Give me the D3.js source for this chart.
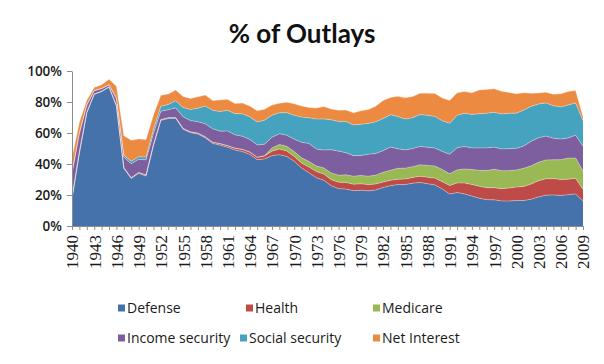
<!DOCTYPE html>
<html>
<head>
<meta charset="utf-8">
<script src="https://cdn.jsdelivr.net/npm/d3@7"></script>
<style>
  body { margin: 0; background: #fff; }
  svg { display: block; }
</style>
</head>
<body>
<div id="grafico"></div>
<script>
// years 1940..2009, share of total outlays (%)
const years = d3.range(1940, 2010)
const seriesNames = ['Defense', 'Health', 'Medicare', 'Income security', 'Social security', 'Net Interest']
const tickYears = d3.range(1940, 2010, 3)
const yTicks = [0, 20, 40, 60, 80, 100]

const defense = [17.5,47.1,73.0,84.9,86.7,89.5,77.3,37.1,30.6,33.9,
  32.2,51.8,68.1,69.4,69.5,62.4,60.2,59.3,56.8,53.2,
  52.2,50.8,49.0,48.0,46.2,42.8,43.2,45.4,46.0,44.9,
  41.8,37.5,34.3,31.2,29.5,26.0,24.1,23.8,22.8,23.1,
  22.7,23.2,24.8,26.0,26.7,26.7,27.6,28.1,27.3,26.5,
  23.9,20.6,21.6,20.7,19.3,17.9,17.0,16.9,16.2,16.1,
  16.5,16.4,17.3,18.7,19.9,20.0,19.7,20.2,20.7,16.0]
const health = [0.6,0.5,0.3,0.2,0.2,0.2,0.4,0.5,0.5,0.6,
  0.7,0.7,0.5,0.4,0.4,0.5,0.5,0.6,0.7,0.8,
  0.9,1.0,1.2,1.4,1.5,1.5,2.0,2.9,3.6,3.5,
  3.0,3.1,3.8,3.9,4.0,3.9,4.2,4.3,4.2,4.1,
  4.0,3.9,3.6,3.5,3.5,3.6,3.7,4.0,4.2,4.4,
  4.7,5.5,6.2,7.0,7.5,7.7,7.7,7.8,7.9,8.4,
  8.6,9.1,9.8,10.5,10.6,10.6,10.3,10.0,10.1,7.5]
const medicare = [0,0,0,0,0,0,0,0,0,0,
  0,0,0,0,0,0,0,0,0,0,
  0,0,0,0,0,0,0.1,2.0,3.0,3.0,
  3.2,3.4,3.5,3.6,4.0,4.3,4.5,4.9,5.1,5.4,
  5.4,5.7,6.2,6.4,7.0,7.0,7.0,7.4,7.6,7.8,
  7.8,7.6,8.4,9.1,9.6,10.3,11.1,11.9,11.6,11.2,
  11.0,11.7,11.7,11.9,12.1,12.1,12.8,13.6,13.0,12.0]
const incomeSecurity = [16.0,12.0,4.6,2.2,1.7,1.2,4.4,6.8,9.0,8.5,
  9.8,7.1,5.5,5.2,6.3,7.6,7.3,7.4,8.4,8.7,
  8.1,9.5,8.6,8.5,8.2,8.0,7.5,6.9,6.9,7.2,
  8.0,10.0,11.6,10.9,11.5,15.0,15.5,14.3,13.3,12.9,
  14.2,14.0,14.0,15.0,12.6,11.8,11.7,11.8,11.7,11.6,
  11.7,12.6,14.3,14.5,14.0,14.5,14.6,14.3,14.0,14.2,
  14.0,14.4,15.8,15.8,15.4,13.9,13.3,13.0,14.8,16.0]
const socialSecurity = [0.3,0.7,0.3,0.2,0.2,0.3,0.6,1.3,1.7,1.7,
  1.8,2.7,3.1,3.4,4.6,6.0,7.1,8.7,11.5,11.9,
  12.6,13.4,13.7,14.5,14.6,14.8,15.5,14.3,13.5,14.5,
  15.5,16.3,16.6,19.4,20.1,19.3,19.2,20.2,19.8,20.1,
  19.9,20.4,20.7,20.9,20.9,19.9,19.9,20.6,20.6,20.4,
  19.8,20.0,21.0,21.4,21.6,22.1,22.3,22.5,22.6,22.8,
  22.7,23.2,22.6,21.8,21.4,21.0,20.7,21.3,20.8,16.5]
const netInterest = [9.4,6.6,2.9,1.9,2.3,3.4,7.5,12.6,13.5,11.5,
  11.3,9.3,7.1,6.8,6.9,7.1,7.2,7.4,7.1,6.3,
  7.5,7.0,6.5,6.9,6.9,7.3,7.0,6.5,6.2,6.8,
  7.4,7.1,6.7,7.1,8.0,7.0,7.2,7.3,7.9,8.7,
  8.9,10.1,11.6,11.1,13.0,13.7,13.7,13.8,14.3,14.8,
  14.7,14.7,14.4,14.1,13.9,15.3,15.4,15.2,14.6,13.5,
  12.5,11.1,8.5,7.1,6.9,7.4,8.5,8.7,8.0,2.5]

const colores = ['#4672ab', '#be4b48', '#98b954', '#7d5fa0', '#46a3c0', '#ec8a42']

// build rows for d3.stack
const valores = [defense, health, medicare, incomeSecurity, socialSecurity, netInterest]
const filas = years.map((yr, i) => {
  const f = { year: yr }
  seriesNames.forEach((n, k) => { f[n] = valores[k][i] })
  return f
})

const ancho = 604
const alto = 364
const izq = 72, der = 583, arriba = 71, abajo = 226

const svg = d3.select('#grafico')
  .append('svg')
  .attr('width', ancho)
  .attr('height', alto)

const x = d3.scalePoint()
  .domain(years)
  .range([izq, der])

const y = d3.scaleLinear()
  .domain([0, 100])
  .range([abajo, arriba])

const stack = d3.stack().keys(seriesNames)
const capas = stack(filas)

const area = d3.area()
  .x(d => x(d.data.year))
  .y0(d => y(d[0]))
  .y1(d => y(d[1]))

svg.append('g')
  .selectAll('path')
  .data(capas)
  .enter().append('path')
  .attr('d', area)
  .attr('fill', (d, i) => colores[i])

// thin light edge along each layer top
const borde = d3.line()
  .x(d => x(d.data.year))
  .y(d => y(d[1]))

svg.append('g')
  .selectAll('path')
  .data(capas)
  .enter().append('path')
  .attr('d', borde)
  .attr('fill', 'none')
  .attr('stroke', '#fff4e8')
  .attr('stroke-opacity', 0.45)
  .attr('stroke-width', 0.8)

// y axis
const ejeY = svg.append('g')
  .attr('transform', 'translate(' + izq + ',0)')
  .call(d3.axisLeft(y)
    .tickValues(yTicks)
    .tickFormat(d => d + '%')
    .tickSize(5)
    .tickSizeOuter(0)
    .tickPadding(5))
ejeY.select('.domain').attr('stroke', '#8c8c8c')
ejeY.selectAll('.tick line').attr('stroke', '#8c8c8c')
ejeY.selectAll('.tick text')
  .style('font-family', '"Open Sans", sans-serif')
  .style('font-size', '13.5px')
  .style('font-weight', '600')
  .attr('fill', '#1a1a1a')

// x axis
const ejeX = svg.append('g')
  .attr('transform', 'translate(0,' + abajo + ')')
  .call(d3.axisBottom(x)
    .tickSize(4)
    .tickSizeOuter(0)
    .tickFormat(d => tickYears.includes(d) ? d : ''))
ejeX.select('.domain').attr('stroke', '#8c8c8c')
ejeX.selectAll('.tick line').attr('stroke', '#8c8c8c')
ejeX.selectAll('.tick text')
  .attr('transform', 'rotate(-90)')
  .attr('text-anchor', 'end')
  .attr('x', -9)
  .attr('y', 0)
  .attr('dy', '0.35em')
  .style('font-family', '"Liberation Serif", serif')
  .style('font-size', '17px')
  .attr('fill', '#1a1a1a')

// title
svg.append('text')
  .attr('x', 302)
  .attr('y', 43)
  .attr('text-anchor', 'middle')
  .style('font-family', 'Lato, sans-serif')
  .style('font-weight', 'bold')
  .style('font-size', '26px')
  .attr('fill', '#111')
  .text('% of Outlays')

// legend
const legX = [118, 246, 373, 118, 240, 373]
const legY = [308, 308, 308, 338, 338, 338]
const leyenda = svg.append('g')
  .selectAll('g')
  .data(seriesNames)
  .enter().append('g')
  .attr('transform', (d, i) => 'translate(' + legX[i] + ',' + legY[i] + ')')

leyenda.append('rect')
  .attr('x', 0)
  .attr('y', -3.5)
  .attr('width', 7)
  .attr('height', 7)
  .attr('fill', (d, i) => colores[i])

leyenda.append('text')
  .attr('x', 9)
  .attr('y', 0)
  .attr('dy', '0.35em')
  .style('font-family', '"Open Sans", sans-serif')
  .style('font-size', '14px')
  .attr('fill', '#1a1a1a')
  .text(d => d)
</script>
</body>
</html>
